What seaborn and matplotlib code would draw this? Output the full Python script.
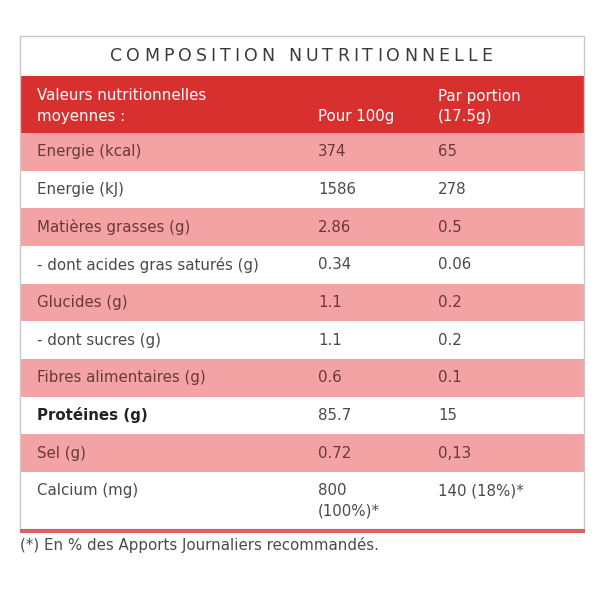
import matplotlib
matplotlib.use("Agg")
import matplotlib.pyplot as plt
import seaborn as sns
from matplotlib.font_manager import FontProperties

sns.set_theme(style="white")
plt.rcParams['font.family'] = ['DejaVu Sans']

title = "COMPOSITION NUTRITIONNELLE"
header_left = ["Valeurs nutritionnelles", "moyennes :"]
header_100 = "Pour 100g"
header_portion = ["Par portion", "(17.5g)"]
nutrients = ["Energie (kcal)", "Energie (kJ)", "Matières grasses (g)",
             "- dont acides gras saturés (g)", "Glucides (g)", "- dont sucres (g)",
             "Fibres alimentaires (g)", "Protéines (g)", "Sel (g)", "Calcium (mg)"]
per_100g = ["374", "1586", "2.86", "0.34", "1.1", "1.1", "0.6", "85.7", "0.72", "800\n(100%)*"]
per_portion = ["65", "278", "0.5", "0.06", "0.2", "0.2", "0.1", "15", "0,13", "140 (18%)*"]
bold_rows = ["Protéines (g)"]
footnote = "(*) En % des Apports Journaliers recommandés."

RED = "#D7302F"
PINK = "#F4A3A4"
TXT_PINK = "#6b3838"
TXT_WHITE = "#4a4a4a"

fig = plt.figure(figsize=(6, 6), dpi=100)
ax = fig.add_axes([0, 0, 1, 1])
ax.set_xlim(0, 600)
ax.set_ylim(600, 0)
ax.axis("off")

L, R = 20, 584
TOP = 36
TITLE_BOT = 76
HEAD_BOT = 133
ROW_H = (472 - 133) / 9.0
CALC_BOT = 529

ax.barh([(TITLE_BOT + HEAD_BOT) / 2], [R - L], left=L, height=HEAD_BOT - TITLE_BOT,
        color=RED, edgecolor="none", zorder=1)
tops = [HEAD_BOT + i * ROW_H for i in range(len(nutrients))]
heights = [ROW_H] * (len(nutrients) - 1) + [CALC_BOT - tops[-1]]
for i, (t, h) in enumerate(zip(tops, heights)):
    col = PINK if i % 2 == 0 else "white"
    ax.barh([t + h / 2], [R - L], left=L, height=h, color=col, edgecolor="none", zorder=1)
ax.plot([L, R, R, L, L], [TOP, TOP, CALC_BOT, CALC_BOT, TOP], color="#c8c8c8", lw=1.0, zorder=2)
ax.barh([CALC_BOT + 2], [R - L + 1], left=L - 0.5, height=4, color="#E0605F", edgecolor="none", zorder=3)

FS = 10.8
X1, X2, X3 = 37, 318, 438

fp = FontProperties(family=['DejaVu Sans'], size=12.5, weight="normal")
renderer = fig.canvas.get_renderer()
widths = []
for ch in title:
    if ch == " ":
        w = renderer.get_text_width_height_descent("n n", fp, ismath=False)[0] - \
            renderer.get_text_width_height_descent("nn", fp, ismath=False)[0]
    else:
        w = renderer.get_text_width_height_descent(ch, fp, ismath=False)[0]
    widths.append(w)
target_l, target_r = 110, 492
spacing = (target_r - target_l - sum(widths)) / (len(title) - 1)
x = target_l
for ch, w in zip(title, widths):
    if ch != " ":
        ax.text(x, 56, ch, fontproperties=fp, color="#3a3a3a", ha="left", va="center", zorder=5)
    x += w + spacing

ax.text(X1, 96, header_left[0], fontsize=FS, color="white", va="center", zorder=5)
ax.text(X1, 117, header_left[1], fontsize=FS, color="white", va="center", zorder=5)
ax.text(X2, 117, header_100, fontsize=FS, color="white", va="center", zorder=5)
ax.text(X3, 96, header_portion[0], fontsize=FS, color="white", va="center", zorder=5)
ax.text(X3, 117, header_portion[1], fontsize=FS, color="white", va="center", zorder=5)

for i, (n, a, b) in enumerate(zip(nutrients, per_100g, per_portion)):
    c = TXT_PINK if i % 2 == 0 else TXT_WHITE
    yc = tops[i] + ROW_H / 2
    wt = "bold" if n in bold_rows else "normal"
    ncol = "#222222" if n in bold_rows else c
    ax.text(X1, yc, n, fontsize=FS, color=ncol, va="center", weight=wt, zorder=5)
    if "\n" in a:
        a1, a2 = a.split("\n")
        ax.text(X2, yc, a1, fontsize=FS, color=c, va="center", zorder=5)
        ax.text(X2, yc + 20, a2, fontsize=FS, color=c, va="center", zorder=5)
    else:
        ax.text(X2, yc, a, fontsize=FS, color=c, va="center", zorder=5)
    ax.text(X3, yc, b, fontsize=FS, color=c, va="center", zorder=5)

ax.text(L, 545, footnote, fontsize=FS, color="#4a4a4a", va="center", zorder=5)

fig.savefig("out.png", dpi=100, facecolor="white")
